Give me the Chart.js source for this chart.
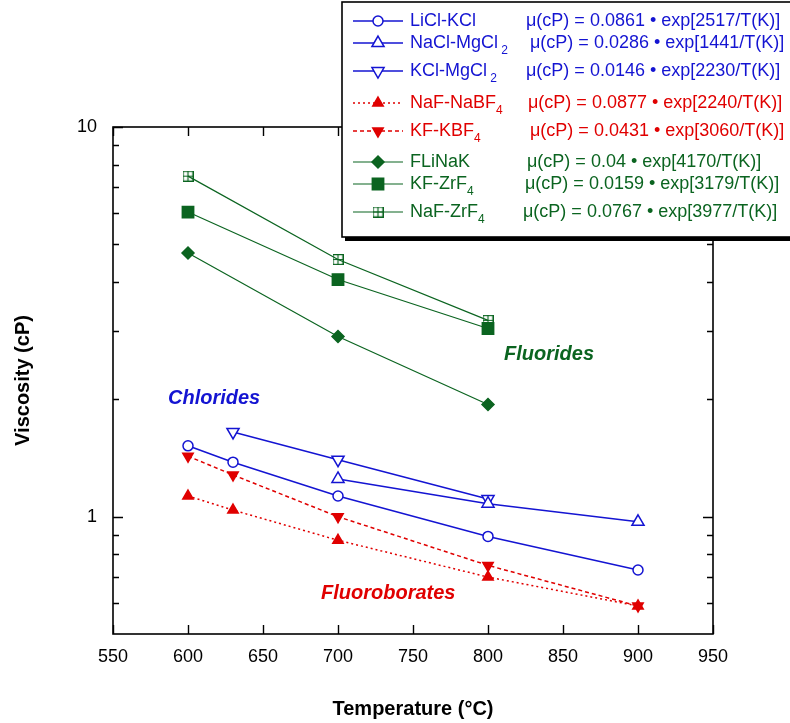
<!DOCTYPE html>
<html>
<head>
<meta charset="utf-8">
<script src="https://cdn.jsdelivr.net/npm/chart.js@4.4.0/dist/chart.umd.min.js"></script>
<style>
  html, body { margin: 0; padding: 0; background: #fff; }
</style>
</head>
<body>
<canvas id="chart" width="790" height="723"></canvas>
<script>
// viscosity of molten salts vs temperature, log y axis

const FONT = '"Liberation Sans", Arial, Helvetica, sans-serif';
const BLUE = '#1414d2';
const RED = '#e00000';
const GREEN = '#0b6420';

// tick values
const xTicks = [550, 600, 650, 700, 750, 800, 850, 900, 950];
const yMajorTicks = [1, 10];
const yMinorTicks = [0.6, 0.7, 0.8, 0.9, 2, 3, 4, 5, 6, 7, 8, 9];

// chlorides
const liclKclT = [600, 630, 700, 800, 900];
const liclKclV = [1.52, 1.38, 1.13, 0.89, 0.73];
const naclMgclT = [700, 800, 900];
const naclMgclV = [1.25, 1.08, 0.97];
const kclMgclT = [630, 700, 800];
const kclMgclV = [1.65, 1.40, 1.11];

// fluoroborates
const nafNabfT = [600, 630, 700, 800, 900];
const nafNabfV = [1.13, 1.04, 0.87, 0.70, 0.59];
const kfKbfT = [600, 630, 700, 800, 900];
const kfKbfV = [1.43, 1.28, 1.00, 0.75, 0.59];

// fluorides
const flinakT = [600, 700, 800];
const flinakV = [4.75, 2.90, 1.94];
const kfZrfT = [600, 700, 800];
const kfZrfV = [6.05, 4.06, 3.04];
const nafZrfT = [600, 700, 800];
const nafZrfV = [7.48, 4.57, 3.19];

// legend text
const seriesNames = ['LiCl-KCl', 'NaCl-MgCl', 'KCl-MgCl', 'NaF-NaBF', 'KF-KBF', 'FLiNaK', 'KF-ZrF', 'NaF-ZrF'];
const seriesSubs = ['', ' 2', ' 2', '4', '4', '', '4', '4'];
const equations = [
    '\u03bc(cP) = 0.0861 \u2022 exp[2517/T(K)]',
    '\u03bc(cP) = 0.0286 \u2022 exp[1441/T(K)]',
    '\u03bc(cP) = 0.0146 \u2022 exp[2230/T(K)]',
    '\u03bc(cP) = 0.0877 \u2022 exp[2240/T(K)]',
    '\u03bc(cP) = 0.0431 \u2022 exp[3060/T(K)]',
    '\u03bc(cP) = 0.04 \u2022 exp[4170/T(K)]',
    '\u03bc(cP) = 0.0159 \u2022 exp[3179/T(K)]',
    '\u03bc(cP) = 0.0767 \u2022 exp[3977/T(K)]'
];

// square with a cross inside, for NaF-ZrF4
function gridSquare(color) {
    const c = document.createElement('canvas');
    c.width = 11; c.height = 11;
    const g = c.getContext('2d');
    g.strokeStyle = color;
    g.lineWidth = 1.2;
    g.strokeRect(0.6, 0.6, 9.8, 9.8);
    g.beginPath();
    g.moveTo(5.5, 0.6); g.lineTo(5.5, 10.4);
    g.moveTo(0.6, 5.5); g.lineTo(10.4, 5.5);
    g.stroke();
    return c;
}
const gridMarker = gridSquare(GREEN);

function pts(xs, ys) {
    return xs.map((x, i) => ({ x: x, y: ys[i] }));
}

function series(label, xs, ys, color, opts) {
    return Object.assign({
        label: label,
        data: pts(xs, ys),
        showLine: true,
        borderColor: color,
        backgroundColor: color,
        pointBorderColor: color,
        pointBackgroundColor: color,
        borderWidth: 1.5,
        pointBorderWidth: 1.5,
        pointRadius: 6,
        pointRotation: 0,
        tension: 0
    }, opts);
}

const datasets = [
    series('LiCl-KCl', liclKclT, liclKclV, BLUE, { pointStyle: 'circle', pointRadius: 5, pointBackgroundColor: '#fff' }),
    series('NaCl-MgCl2', naclMgclT, naclMgclV, BLUE, { pointStyle: 'triangle', pointRadius: 7, pointBackgroundColor: '#fff' }),
    series('KCl-MgCl2', kclMgclT, kclMgclV, BLUE, { pointStyle: 'triangle', pointRadius: 7, pointRotation: 180, pointBackgroundColor: '#fff' }),
    series('NaF-NaBF4', nafNabfT, nafNabfV, RED, { pointStyle: 'triangle', pointRadius: 6, borderDash: [2, 3] }),
    series('KF-KBF4', kfKbfT, kfKbfV, RED, { pointStyle: 'triangle', pointRadius: 6, pointRotation: 180, borderDash: [4, 3] }),
    series('FLiNaK', flinakT, flinakV, GREEN, { pointStyle: 'rectRot', pointRadius: 6, borderWidth: 1.2 }),
    series('KF-ZrF4', kfZrfT, kfZrfV, GREEN, { pointStyle: 'rect', pointRadius: 8, borderWidth: 1.2 }),
    series('NaF-ZrF4', nafZrfT, nafZrfV, GREEN, { pointStyle: gridMarker, borderWidth: 1.2 })
];

// frame with inward ticks, group labels and the boxed legend
const framePlugin = {
    id: 'frame',
    afterDraw(chart) {
        const ctx = chart.ctx;
        const a = chart.chartArea;
        const xs = chart.scales.x;
        const ys = chart.scales.y;
        ctx.save();

        // frame
        ctx.strokeStyle = '#000';
        ctx.lineWidth = 1.6;
        ctx.strokeRect(a.left, a.top, a.right - a.left, a.bottom - a.top);

        // x ticks, bottom and top
        ctx.lineWidth = 1.4;
        ctx.beginPath();
        xTicks.forEach(v => {
            const px = Math.round(xs.getPixelForValue(v)) + 0.5;
            ctx.moveTo(px, a.bottom); ctx.lineTo(px, a.bottom - 9);
            ctx.moveTo(px, a.top); ctx.lineTo(px, a.top + 9);
        });
        // y ticks, left and right
        yMajorTicks.forEach(v => {
            const py = Math.round(ys.getPixelForValue(v)) + 0.5;
            ctx.moveTo(a.left, py); ctx.lineTo(a.left + 10, py);
            ctx.moveTo(a.right, py); ctx.lineTo(a.right - 10, py);
        });
        yMinorTicks.forEach(v => {
            const py = Math.round(ys.getPixelForValue(v)) + 0.5;
            ctx.moveTo(a.left, py); ctx.lineTo(a.left + 6, py);
            ctx.moveTo(a.right, py); ctx.lineTo(a.right - 6, py);
        });
        ctx.stroke();

        // group labels
        ctx.font = 'italic bold 20px ' + FONT;
        ctx.textBaseline = 'middle';
        ctx.textAlign = 'left';
        ctx.fillStyle = BLUE;
        ctx.fillText('Chlorides', 168, 398);
        ctx.fillStyle = GREEN;
        ctx.fillText('Fluorides', 504, 354);
        ctx.fillStyle = RED;
        ctx.fillText('Fluoroborates', 321, 593);

        // legend box
        ctx.fillStyle = '#000';
        ctx.fillRect(345, 236, 450, 5);
        ctx.fillStyle = '#fff';
        ctx.fillRect(342, 2, 450, 235);
        ctx.strokeStyle = '#000';
        ctx.lineWidth = 1.6;
        ctx.strokeRect(342, 2, 450, 235);

        const rowY = [21, 43, 71, 103, 131, 162, 184, 212];
        const eqX = [526, 530, 526, 528, 530, 527, 525, 523];
        datasets.forEach((ds, i) => {
            const y = rowY[i];
            ctx.strokeStyle = ds.borderColor;
            ctx.lineWidth = ds.borderWidth;
            ctx.setLineDash(ds.borderDash || []);
            ctx.beginPath();
            ctx.moveTo(353, y); ctx.lineTo(403, y);
            ctx.stroke();
            ctx.setLineDash([]);

            ctx.fillStyle = ds.pointBackgroundColor;
            ctx.strokeStyle = ds.pointBorderColor;
            ctx.lineWidth = ds.pointBorderWidth;
            Chart.helpers.drawPoint(ctx, {
                pointStyle: ds.pointStyle,
                radius: ds.pointRadius,
                rotation: ds.pointRotation,
                borderWidth: ds.pointBorderWidth
            }, 378, y);

            ctx.fillStyle = ds.borderColor;
            ctx.font = '18px ' + FONT;
            ctx.textAlign = 'left';
            ctx.textBaseline = 'middle';
            ctx.fillText(seriesNames[i], 410, y);
            if (seriesSubs[i]) {
                const w = ctx.measureText(seriesNames[i]).width;
                ctx.font = '12px ' + FONT;
                ctx.fillText(seriesSubs[i], 410 + w, y + 8);
                ctx.font = '18px ' + FONT;
            }
            ctx.fillText(equations[i], eqX[i], y);
        });

        ctx.restore();
    }
};

new Chart(document.getElementById('chart'), {
    type: 'scatter',
    data: { datasets: datasets },
    options: {
        responsive: false,
        animation: false,
        devicePixelRatio: 1,
        layout: { padding: { left: 0, right: 77, top: 127, bottom: 2 } },
        plugins: {
            legend: { display: false },
            tooltip: { enabled: false }
        },
        scales: {
            x: {
                type: 'linear',
                min: 550,
                max: 950,
                grid: { display: false, drawTicks: false },
                border: { display: false },
                afterBuildTicks: s => { s.ticks = xTicks.map(v => ({ value: v })); },
                ticks: {
                    color: '#000',
                    font: { family: FONT, size: 18 },
                    padding: 12,
                    maxRotation: 0,
                    autoSkip: false
                },
                title: {
                    display: true,
                    text: 'Temperature (\u00b0C)',
                    color: '#000',
                    font: { family: FONT, size: 20, weight: 'bold' },
                    padding: 0
                },
                afterFit: s => { s.height = 87; }
            },
            y: {
                type: 'logarithmic',
                min: 0.5,
                max: 10,
                grid: { display: false, drawTicks: false },
                border: { display: false },
                afterBuildTicks: s => { s.ticks = yMajorTicks.map(v => ({ value: v })); },
                ticks: {
                    color: '#000',
                    font: { family: FONT, size: 18 },
                    padding: 16,
                    autoSkip: false,
                    callback: v => String(v)
                },
                title: {
                    display: true,
                    text: 'Viscosity (cP)',
                    color: '#000',
                    font: { family: FONT, size: 20, weight: 'bold' },
                    padding: { top: 11, bottom: 0 }
                },
                afterFit: s => { s.width = 113; }
            }
        }
    },
    plugins: [framePlugin]
});
</script>
</body>
</html>
